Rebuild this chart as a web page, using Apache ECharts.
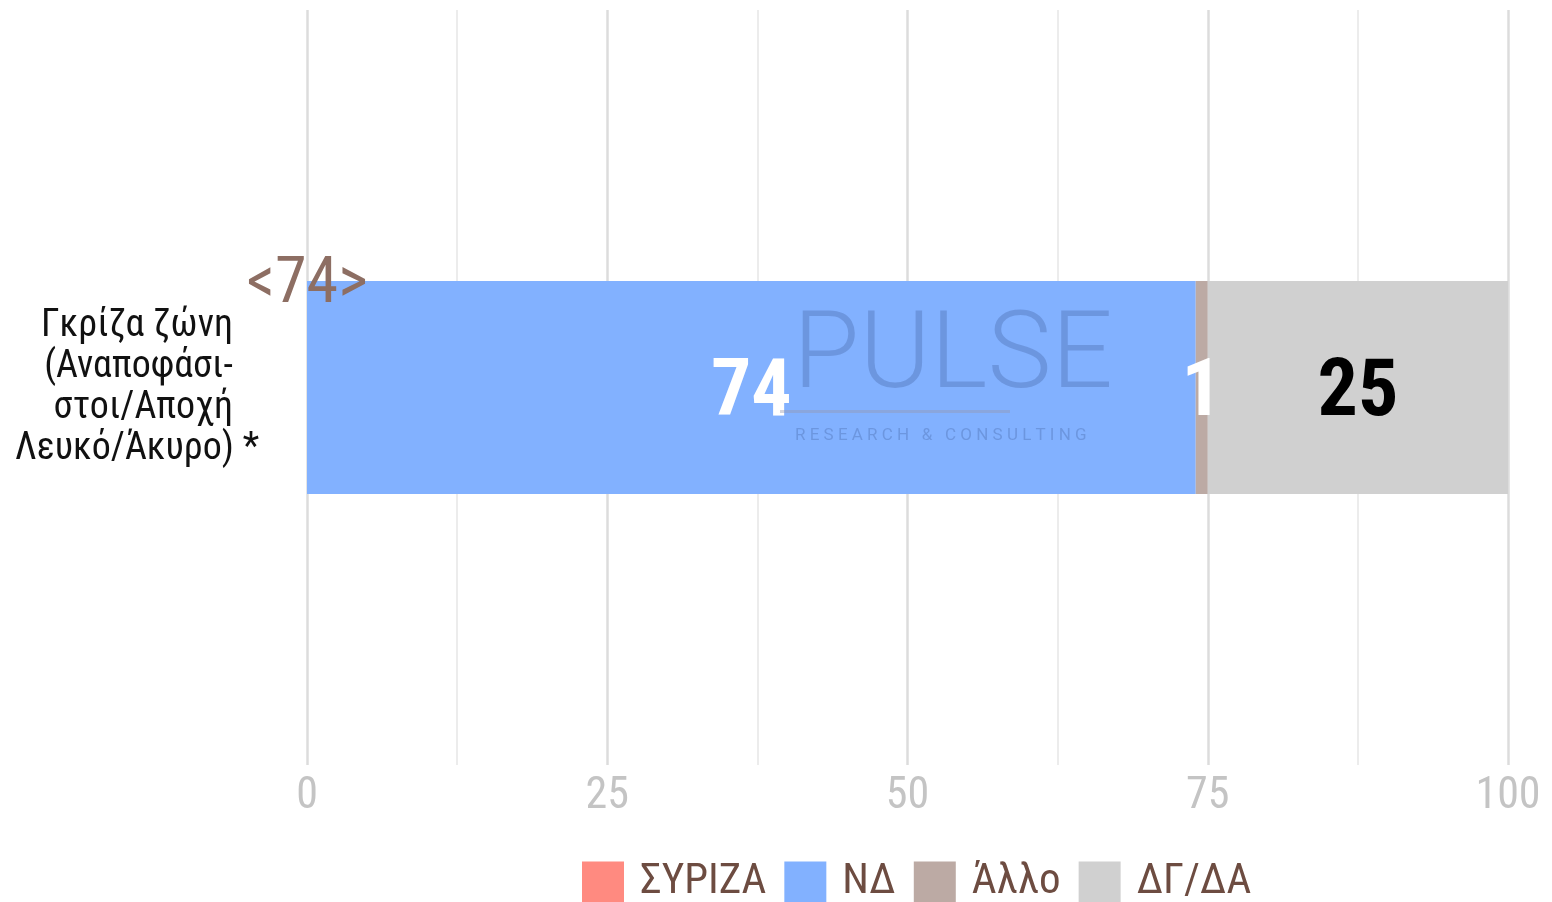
<!DOCTYPE html>
<html>
<head>
<meta charset="utf-8">
<script src="https://cdn.jsdelivr.net/npm/echarts@6/dist/echarts.min.js"></script>
<style>
html,body{margin:0;padding:0;background:#fff;}
#chart{width:1552px;height:902px;}
</style>
</head>
<body>
<div id="chart"></div>
<script>
const categories = ['Γκρίζα ζώνη\n(Αναποφάσι-\nστοι/Αποχή\nΛευκό/Άκυρο) *'];
const seriesNames = ['ΣΥΡΙΖΑ', 'ΝΔ', 'Άλλο', 'ΔΓ/ΔΑ'];
const syriza = [0];
const nd = [74];
const allo = [1];
const dgda = [25];
const colors = ['#ff8a80', '#82b1ff', '#bcaaa4', '#d0d0d0'];
const labelColors = ['#ffffff', '#ffffff', '#ffffff', '#000000'];

const font = '"Roboto Condensed", "Liberation Sans Narrow", Roboto, sans-serif';
const chart = echarts.init(document.getElementById('chart'));

function makeSeries(name, data, i) {
  return {
    name: name,
    type: 'bar',
    stack: 'total',
    barWidth: '28.2%',
    data: data,
    itemStyle: {color: colors[i]},
    label: {
      show: i > 0,
      position: 'inside',
      offset: [0, 7],
      color: labelColors[i],
      fontFamily: font,
      fontWeight: 'bold',
      fontSize: 80
    }
  };
}

const series = [
  makeSeries(seriesNames[0], syriza, 0),
  makeSeries(seriesNames[1], nd, 1),
  makeSeries(seriesNames[2], allo, 2),
  makeSeries(seriesNames[3], dgda, 3)
];
// total of ΣΥΡΙΖΑ/ΝΔ shown above the bar start
series[0].label = {
  show: true,
  position: 'top',
  distance: -37,
  color: '#8d6e63',
  fontFamily: font,
  fontSize: 64,
  formatter: function (p) { return '<' + (syriza[p.dataIndex] + nd[p.dataIndex]) + '>'; }
};

chart.setOption({
  animation: false,
  grid: {left: 307, right: 44, top: 10, bottom: 137},
  legend: {
    bottom: -7,
    left: 577,
    itemWidth: 42,
    itemHeight: 42,
    itemGap: 18,
    icon: 'rect',
    textStyle: {color: '#6d4c41', fontFamily: font, fontSize: 43, padding: [0, 0, 0, 11]},
    data: seriesNames
  },
  xAxis: {
    type: 'value',
    min: 0,
    max: 100,
    interval: 25,
    axisLine: {show: false},
    axisTick: {show: false},
    axisLabel: {color: '#c4c4c4', fontFamily: font, fontSize: 44, margin: 10},
    splitLine: {lineStyle: {color: '#dcdcdc', width: 2.5}},
    minorTick: {show: false, splitNumber: 2},
    minorSplitLine: {show: true, lineStyle: {color: '#e6e6e6', width: 1.5}}
  },
  yAxis: {
    type: 'category',
    data: categories,
    axisLine: {show: false},
    axisTick: {show: false},
    axisLabel: {
      color: '#111',
      fontFamily: font,
      fontSize: 38,
      lineHeight: 41,
      margin: 48,
      align: 'right',
      formatter: function (v) {
        const lines = v.split('\n');
        return lines.map(function (l, k) { return k < lines.length - 1 ? l + '\u00a0\u00a0\u00a0' : l; }).join('\n');
      }
    }
  },
  graphic: [
    {type: 'text', left: 793, top: 306, z: 100,
      style: {text: 'PULSE', fill: 'rgba(60,90,150,0.3)', font: '300 108px Roboto, sans-serif'}},
    {type: 'text', left: 795, top: 427, z: 100,
      style: {text: 'R E S E A R C H   &   C O N S U L T I N G', fill: 'rgba(60,90,150,0.3)', font: '17px Roboto, sans-serif'}},
    {type: 'rect', shape: {x: 780, y: 410, width: 230, height: 3}, z: 100,
      style: {fill: 'rgba(150,150,170,0.4)'}}
  ],
  series: series
});
</script>
</body>
</html>
